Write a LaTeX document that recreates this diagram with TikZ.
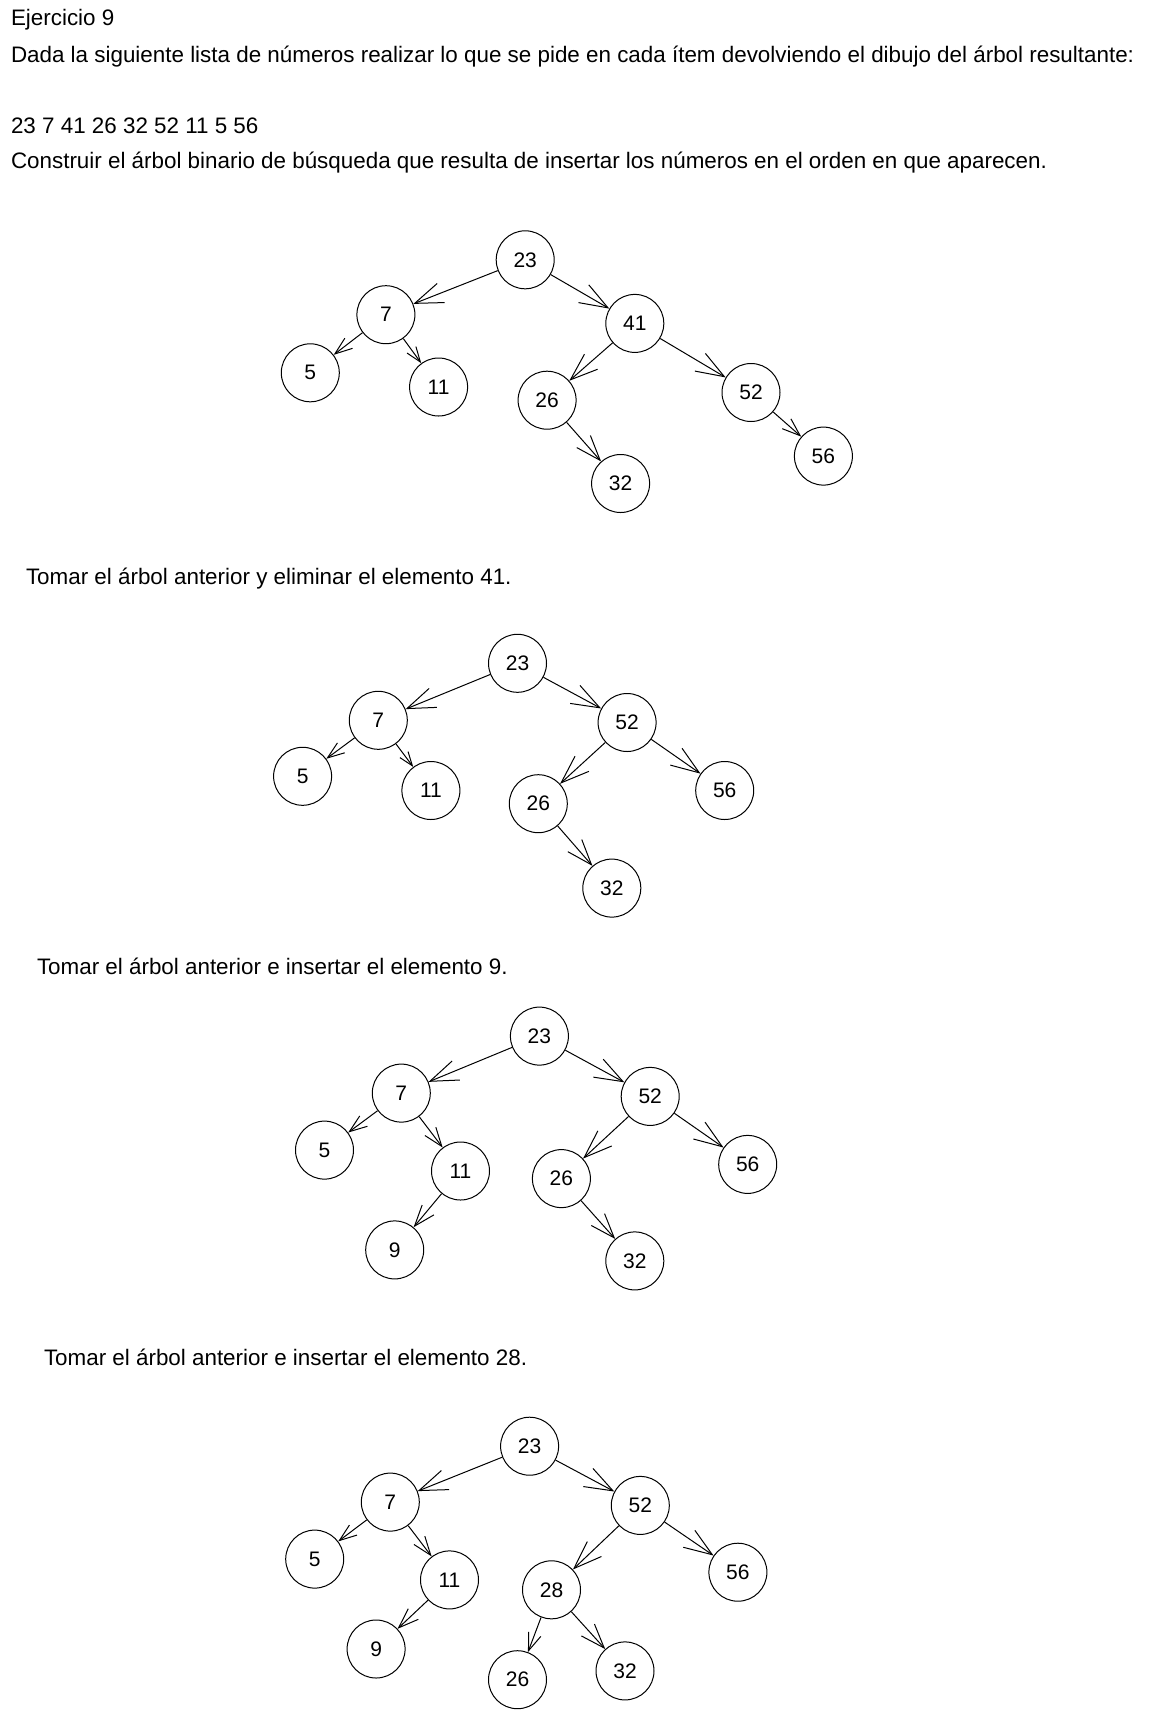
\documentclass[tikz,border=0pt]{standalone}
\usepackage{fontspec}
\setmainfont{Liberation Sans}
\usetikzlibrary{arrows.meta}

\tikzset{every picture/.style={line width=0.5pt}}
\tikzset{
  keynode/.style={draw, circle, minimum size=29pt, inner sep=0pt, font=\fontsize{10.5}{12}\selectfont},
  link/.style={-{Straight Barb[angle=40:#1]}},
  link/.default=15pt,
  prompt/.style={anchor=west, inner sep=0.75pt, font=\fontsize{11.2}{13}\selectfont}
}

\begin{document}
\begin{tikzpicture}[x=0.5pt,y=-0.5pt]
		\useasboundingbox (0,0) rectangle (1160,1719);

		% Text Node
		\node (ej) [prompt] at (9,20) {Ejercicio 9};
		% Text Node
		\node (enun) [prompt] at (9,57) {Dada la siguiente lista de números realizar lo que se pide en cada ítem devolviendo el dibujo del árbol resultante:};
		% Text Node
		\node (lista) [prompt] at (9,126) {23 7 41 26 32 52 11 5 56};
		% Text Node
		\node (item1) [prompt] at (9,163) {Construir el árbol binario de búsqueda que resulta de insertar los números en el orden en que aparecen.};

		%Shape: Circle [tree 1]
		\node (a23) [keynode] at (525.2,259.8) {23};
		\node (a7) [keynode] at (385.9,314.7) {7};
		\node (a41) [keynode] at (634.8,323.4) {41};
		\node (a5) [keynode] at (310.3,372.8) {5};
		\node (a11) [keynode] at (438.6,387.0) {11};
		\node (a26) [keynode] at (547.1,400.2) {26};
		\node (a52) [keynode] at (751.0,392.5) {52};
		\node (a32) [keynode] at (620.6,483.5) {32};
		\node (a56) [keynode] at (823.4,456.1) {56};
		%Straight Lines
		\draw [link] (a23) -- (a7);
		\draw [link] (a23) -- (a41);
		\draw [link=9.3pt] (a7) -- (a5);
		\draw [link=8pt] (a7) -- (a11);
		\draw [link=14.6pt] (a41) -- (a26);
		\draw [link] (a41) -- (a52);
		\draw [link=13.3pt] (a26) -- (a32);
		\draw [link=9.6pt] (a52) -- (a56);

		% Text Node
		\node (item2) [prompt] at (24,579) {Tomar el árbol anterior y eliminar el elemento 41.};

		%Shape: Circle [tree 2]
		\node (b23) [keynode] at (517.5,663.3) {23};
		\node (b7) [keynode] at (378.3,720.3) {7};
		\node (b52) [keynode] at (627.1,722.5) {52};
		\node (b5) [keynode] at (302.6,776.3) {5};
		\node (b11) [keynode] at (430.9,790.5) {11};
		\node (b26) [keynode] at (538.3,803.7) {26};
		\node (b56) [keynode] at (724.7,790.5) {56};
		\node (b32) [keynode] at (611.8,888.1) {32};
		%Straight Lines
		\draw [link] (b23) -- (b7);
		\draw [link] (b23) -- (b52);
		\draw [link=9pt] (b7) -- (b5);
		\draw [link=7.4pt] (b7) -- (b11);
		\draw [link] (b52) -- (b26);
		\draw [link] (b52) -- (b56);
		\draw [link=13.5pt] (b26) -- (b32);

		% Text Node
		\node (item3) [prompt] at (35,966) {Tomar el árbol anterior e insertar el elemento 9.};

		%Shape: Circle [tree 3]
		\node (c23) [keynode] at (539.4,1036.1) {23};
		\node (c7) [keynode] at (401.3,1093.1) {7};
		\node (c52) [keynode] at (650.2,1096.4) {52};
		\node (c5) [keynode] at (324.5,1150.1) {5};
		\node (c11) [keynode] at (460.5,1171.0) {11};
		\node (c26) [keynode] at (561.4,1178.6) {26};
		\node (c56) [keynode] at (747.7,1164.4) {56};
		\node (c9) [keynode] at (394.7,1249.9) {9};
		\node (c32) [keynode] at (634.8,1260.9) {32};
		%Straight Lines
		\draw [link] (c23) -- (c7);
		\draw [link] (c23) -- (c52);
		\draw [link=9.4pt] (c7) -- (c5);
		\draw [link=10pt] (c7) -- (c11);
		\draw [link=11.2pt] (c11) -- (c9);
		\draw [link] (c52) -- (c26);
		\draw [link] (c52) -- (c56);
		\draw [link=13pt] (c26) -- (c32);

		% Text Node
		\node (item4) [prompt] at (42,1357) {Tomar el árbol anterior e insertar el elemento 28.};

		%Shape: Circle [tree 4]
		\node (d23) [keynode] at (529.6,1446.2) {23};
		\node (d7) [keynode] at (390.3,1502.1) {7};
		\node (d52) [keynode] at (640.3,1505.4) {52};
		\node (d5) [keynode] at (314.7,1559.1) {5};
		\node (d11) [keynode] at (449.5,1579.9) {11};
		\node (d28) [keynode] at (551.5,1589.8) {28};
		\node (d56) [keynode] at (737.9,1572.2) {56};
		\node (d9) [keynode] at (376.1,1649.0) {9};
		\node (d26) [keynode] at (517.5,1679.7) {26};
		\node (d32) [keynode] at (625.0,1670.9) {32};
		%Straight Lines
		\draw [link] (d23) -- (d7);
		\draw [link] (d23) -- (d52);
		\draw [link=9.2pt] (d7) -- (d5);
		\draw [link=10pt] (d7) -- (d11);
		\draw [link=10.7pt] (d11) -- (d9);
		\draw [link] (d52) -- (d28);
		\draw [link] (d52) -- (d56);
		\draw [link=9.5pt] (d28) -- (d26);
		\draw [link=12.9pt] (d28) -- (d32);
\end{tikzpicture}
\end{document}
